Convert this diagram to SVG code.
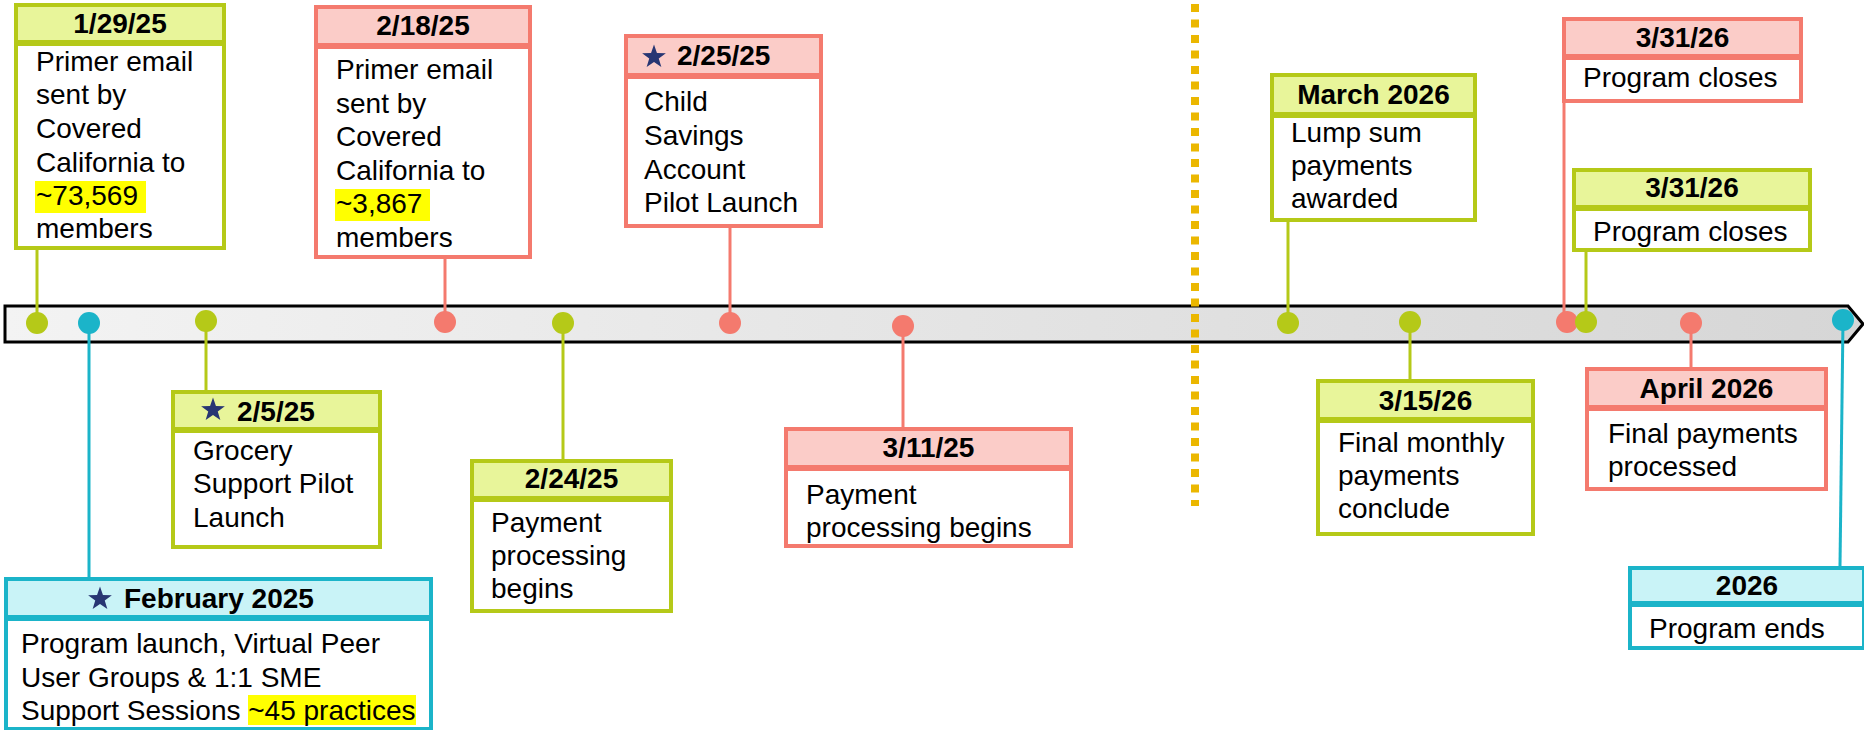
<svg xmlns="http://www.w3.org/2000/svg" width="1864" height="730" viewBox="0 0 1864 730">
<defs>
<linearGradient id="barGrad" x1="0" y1="0" x2="1" y2="0">
<stop offset="0" stop-color="#F3F3F3"/>
<stop offset="1" stop-color="#D6D6D6"/>
</linearGradient>
<polygon id="star" points="0,-12.5 2.94,-4.05 11.89,-3.86 4.76,1.55 7.35,10.11 0,5 -7.35,10.11 -4.76,1.55 -11.89,-3.86 -2.94,-4.05" fill="#283673"/>
<style>
text{font-family:"Liberation Sans",Arial,sans-serif;font-size:28px;fill:#000}
.h{font-weight:bold}
.c{text-anchor:middle}
.body{fill:#fff;stroke-width:4}
.hg{fill:#E8F59A;stroke:#B5C918;stroke-width:4}
.hr{fill:#FBCCC8;stroke:#F47A6E;stroke-width:4}
.hb{fill:#C9F3F7;stroke:#1BB4C9;stroke-width:4}
.g{stroke:#B5C918}
.r{stroke:#F47A6E}
.b{stroke:#1BB4C9}
.dv{stroke-width:6}
.ln{stroke-width:3;fill:none}
.dg{fill:#B5C918}
.dr{fill:#F47A6E}
.db{fill:#1BB4C9}
.hl{fill:#FFFF00}
</style>
</defs>
<g id="timeline">
<path d="M5,306 L1848,306 L1863,324 L1848,342 L5,342 Z" fill="url(#barGrad)" stroke="#000" stroke-width="3"/>
<line x1="1195" y1="4" x2="1195" y2="506" stroke="#EBB700" stroke-width="8" stroke-dasharray="8 7.5"/>
</g>
<g id="connectors">
<line class="ln g" x1="37" y1="250" x2="37" y2="323"/>
<line class="ln b" x1="89" y1="323" x2="89" y2="577"/>
<line class="ln g" x1="206" y1="321" x2="206" y2="390"/>
<line class="ln r" x1="445" y1="259" x2="445" y2="322"/>
<line class="ln g" x1="563" y1="323" x2="563" y2="459"/>
<line class="ln r" x1="730" y1="228" x2="730" y2="323"/>
<line class="ln r" x1="903" y1="326" x2="903" y2="427"/>
<line class="ln g" x1="1288" y1="222" x2="1288" y2="323"/>
<line class="ln g" x1="1410" y1="322" x2="1410" y2="379"/>
<line class="ln r" x1="1564" y1="103" x2="1564" y2="322"/>
<line class="ln g" x1="1586" y1="252" x2="1586" y2="322"/>
<line class="ln r" x1="1691" y1="323" x2="1691" y2="367"/>
<line class="ln b" x1="1843" y1="320" x2="1840" y2="566"/>
<circle class="dg" cx="37" cy="323" r="11"/>
<circle class="db" cx="89" cy="323" r="11"/>
<circle class="dg" cx="206" cy="321" r="11"/>
<circle class="dr" cx="445" cy="322" r="11"/>
<circle class="dg" cx="563" cy="323" r="11"/>
<circle class="dr" cx="730" cy="323" r="11"/>
<circle class="dr" cx="903" cy="326" r="11"/>
<circle class="dg" cx="1288" cy="323" r="11"/>
<circle class="dg" cx="1410" cy="322" r="11"/>
<circle class="dr" cx="1567" cy="322" r="11"/>
<circle class="dg" cx="1586" cy="322" r="11"/>
<circle class="dr" cx="1691" cy="323" r="11"/>
<circle class="db" cx="1843" cy="320" r="11"/>
</g>
<g id="n1">
<rect class="body g" x="16" y="5" width="208" height="243"/>
<rect class="hg" x="16" y="5" width="208" height="38"/>
<line class="dv g" x1="16" y1="43" x2="224" y2="43"/>
<text class="h c" x="120" y="33">1/29/25</text>
<rect class="hl" x="35" y="181" width="111" height="32"/>
<text x="36" y="71">Primer email</text>
<text x="36" y="104">sent by</text>
<text x="36" y="138">Covered</text>
<text x="36" y="172">California to</text>
<text x="36" y="205">~73,569</text>
<text x="36" y="238">members</text>
</g>
<g id="n2">
<rect class="body r" x="316" y="7" width="214" height="250"/>
<rect class="hr" x="316" y="7" width="214" height="39"/>
<line class="dv r" x1="316" y1="46" x2="530" y2="46"/>
<text class="h c" x="423" y="35">2/18/25</text>
<rect class="hl" x="335" y="189" width="95" height="32"/>
<text x="336" y="79">Primer email</text>
<text x="336" y="113">sent by</text>
<text x="336" y="146">Covered</text>
<text x="336" y="180">California to</text>
<text x="336" y="213">~3,867</text>
<text x="336" y="247">members</text>
</g>
<g id="n3">
<rect class="body r" x="626" y="36" width="195" height="190"/>
<rect class="hr" x="626" y="36" width="195" height="40"/>
<line class="dv r" x1="626" y1="76" x2="821" y2="76"/>
<use href="#star" x="654" y="57"/>
<text class="h" x="677" y="65">2/25/25</text>
<text x="644" y="111">Child</text>
<text x="644" y="145">Savings</text>
<text x="644" y="179">Account</text>
<text x="644" y="212">Pilot Launch</text>
</g>
<g id="n4">
<rect class="body g" x="173" y="392" width="207" height="155"/>
<rect class="hg" x="173" y="392" width="207" height="38"/>
<line class="dv g" x1="173" y1="430" x2="380" y2="430"/>
<use href="#star" x="213" y="410"/>
<text class="h" x="237" y="421">2/5/25</text>
<text x="193" y="460">Grocery</text>
<text x="193" y="493">Support Pilot</text>
<text x="193" y="527">Launch</text>
</g>
<g id="n5">
<rect class="body b" x="6" y="579" width="425" height="150"/>
<rect class="hb" x="6" y="579" width="425" height="39"/>
<line class="dv b" x1="6" y1="618" x2="431" y2="618"/>
<use href="#star" x="100" y="599"/>
<text class="h" x="124" y="608">February 2025</text>
<rect class="hl" x="248" y="695" width="168" height="30"/>
<text x="21" y="653">Program launch, Virtual Peer</text>
<text x="21" y="687">User Groups &amp; 1:1 SME</text>
<text x="21" y="720">Support Sessions ~45 practices</text>
</g>
<g id="n6">
<rect class="body g" x="472" y="461" width="199" height="150"/>
<rect class="hg" x="472" y="461" width="199" height="38"/>
<line class="dv g" x1="472" y1="499" x2="671" y2="499"/>
<text class="h c" x="571.5" y="488">2/24/25</text>
<text x="491" y="532">Payment</text>
<text x="491" y="565">processing</text>
<text x="491" y="598">begins</text>
</g>
<g id="n7">
<rect class="body r" x="786" y="429" width="285" height="117"/>
<rect class="hr" x="786" y="429" width="285" height="39"/>
<line class="dv r" x1="786" y1="468" x2="1071" y2="468"/>
<text class="h c" x="928.5" y="457">3/11/25</text>
<text x="806" y="504">Payment</text>
<text x="806" y="537">processing begins</text>
</g>
<g id="n8">
<rect class="body g" x="1272" y="75" width="203" height="145"/>
<rect class="hg" x="1272" y="75" width="203" height="40"/>
<line class="dv g" x1="1272" y1="115" x2="1475" y2="115"/>
<text class="h c" x="1373.5" y="104">March 2026</text>
<text x="1291" y="142">Lump sum</text>
<text x="1291" y="175">payments</text>
<text x="1291" y="208">awarded</text>
</g>
<g id="n9">
<rect class="body r" x="1564" y="19" width="237" height="82"/>
<rect class="hr" x="1564" y="19" width="237" height="38"/>
<line class="dv r" x1="1564" y1="57" x2="1801" y2="57"/>
<text class="h c" x="1682.5" y="47">3/31/26</text>
<text x="1583" y="87">Program closes</text>
</g>
<g id="n10">
<rect class="body g" x="1574" y="170" width="236" height="80"/>
<rect class="hg" x="1574" y="170" width="236" height="38"/>
<line class="dv g" x1="1574" y1="208" x2="1810" y2="208"/>
<text class="h c" x="1692" y="197">3/31/26</text>
<text x="1593" y="241">Program closes</text>
</g>
<g id="n11">
<rect class="body g" x="1318" y="381" width="215" height="153"/>
<rect class="hg" x="1318" y="381" width="215" height="39"/>
<line class="dv g" x1="1318" y1="420" x2="1533" y2="420"/>
<text class="h c" x="1425.5" y="410">3/15/26</text>
<text x="1338" y="452">Final monthly</text>
<text x="1338" y="485">payments</text>
<text x="1338" y="518">conclude</text>
</g>
<g id="n12">
<rect class="body r" x="1587" y="369" width="239" height="120"/>
<rect class="hr" x="1587" y="369" width="239" height="39"/>
<line class="dv r" x1="1587" y1="408" x2="1826" y2="408"/>
<text class="h c" x="1706.5" y="398">April 2026</text>
<text x="1608" y="443">Final payments</text>
<text x="1608" y="476">processed</text>
</g>
<g id="n13">
<rect class="body b" x="1630" y="568" width="234" height="80"/>
<rect class="hb" x="1630" y="568" width="234" height="36"/>
<line class="dv b" x1="1630" y1="604" x2="1864" y2="604"/>
<text class="h c" x="1747" y="595">2026</text>
<text x="1649" y="638">Program ends</text>
</g>
</svg>
